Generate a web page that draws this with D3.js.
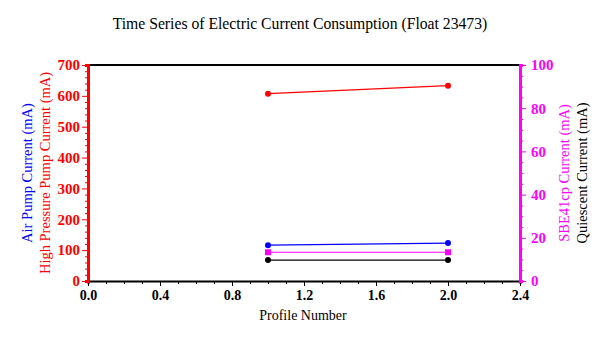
<!DOCTYPE html>
<html><head><meta charset="utf-8">
<script src="https://cdn.jsdelivr.net/npm/d3@7"></script>
<style>body{margin:0;background:#fff}svg{display:block}svg text{font-family:"Liberation Serif","Times New Roman",serif !important}</style>
</head><body>
<svg id="c" width="604" height="338"></svg>
<script>
const profiles = [1, 2];
const highPressure = [607, 633];
const airPump = [116, 123];
const sbe41cp = [13.3, 13.3];
const quiescent = [9.7, 9.7];
const xTicks = [0.0, 0.4, 0.8, 1.2, 1.6, 2.0, 2.4];
const leftTicks = [0, 100, 200, 300, 400, 500, 600, 700];
const rightTicks = [0, 20, 40, 60, 80, 100];

const svg = d3.select("#c");
const m = {l: 88, r: 520, t: 65, b: 281};
const x = d3.scaleLinear().domain([0, 2.4]).range([m.l, m.r]);
const yL = d3.scaleLinear().domain([0, 700]).range([m.b, m.t]);
const yR = d3.scaleLinear().domain([0, 100]).range([m.b, m.t]);
const serif = '"Liberation Serif","Times New Roman",serif';

// top border
svg.append("line").attr("x1", m.l).attr("x2", m.r).attr("y1", m.t).attr("y2", m.t).attr("stroke", "#000").attr("stroke-width", 2);

// bottom axis
const gx = svg.append("g").attr("transform", `translate(0,${m.b})`);
gx.call(d3.axisBottom(x).tickValues(d3.range(0, 2.41, 0.1)).tickSize(3).tickFormat(""));
gx.call(g => g.selectAll(".tick").filter(d => xTicks.some(t => Math.abs(t - d) < 1e-6)).select("line").attr("y2", 5));
gx.append("g").call(d3.axisBottom(x).tickValues(xTicks).tickSize(0).tickPadding(9).tickFormat(d3.format(".1f")))
  .call(g => g.select(".domain").remove())
  .call(g => g.selectAll("text").style("font-size", "14px").style("font-weight", "bold").attr("fill", "#000"));
gx.selectAll(".domain").attr("stroke-width", 2);

// left axis
const gl = svg.append("g").attr("transform", `translate(${m.l},0)`);
gl.call(d3.axisLeft(yL).tickValues(d3.range(0, 701, 20)).tickSize(3).tickFormat(""));
gl.call(g => g.selectAll(".tick").filter(d => d % 100 === 0).select("line").attr("x2", -6));
gl.append("g").call(d3.axisLeft(yL).tickValues(leftTicks).tickSize(0).tickPadding(8))
  .call(g => g.select(".domain").remove())
  .call(g => g.selectAll("text").style("font-size", "15px").style("font-weight", "bold"));
gl.selectAll(".domain, line").attr("stroke", "red");
gl.select(".domain").attr("stroke-width", 3);
gl.selectAll("text").attr("fill", "red");

// right axis
const gr = svg.append("g").attr("transform", `translate(${m.r},0)`);
gr.call(d3.axisRight(yR).tickValues(d3.range(0, 101, 5)).tickSize(3).tickFormat(""));
gr.call(g => g.selectAll(".tick").filter(d => d % 20 === 0).select("line").attr("x2", 6));
gr.append("g").call(d3.axisRight(yR).tickValues(rightTicks).tickSize(0).tickPadding(11))
  .call(g => g.select(".domain").remove())
  .call(g => g.selectAll("text").style("font-size", "15px").style("font-weight", "bold"));
gr.selectAll(".domain, line").attr("stroke", "magenta");
gr.select(".domain").attr("stroke-width", 3);
gr.selectAll("text").attr("fill", "magenta");

// series
const series = [
  {vals: highPressure, y: yL, color: "red", shape: "circle"},
  {vals: airPump, y: yL, color: "blue", shape: "circle"},
  {vals: sbe41cp, y: yR, color: "magenta", shape: "square"},
  {vals: quiescent, y: yR, color: "black", shape: "circle"}
];
series.forEach(s => {
  const pts = profiles.map((p, i) => [x(p), s.y(s.vals[i])]);
  svg.append("path").attr("d", d3.line()(pts)).attr("fill", "none").attr("stroke", s.color).attr("stroke-width", 1.2);
  pts.forEach(p => {
    if (s.shape === "square") svg.append("rect").attr("x", p[0] - 3).attr("y", p[1] - 3).attr("width", 6).attr("height", 6).attr("fill", s.color);
    else svg.append("circle").attr("cx", p[0]).attr("cy", p[1]).attr("r", 3).attr("fill", s.color);
  });
});

// labels
svg.append("text").attr("x", 300).attr("y", 29).attr("text-anchor", "middle").style("font-size", "15.7px").text("Time Series of Electric Current Consumption (Float 23473)");
svg.append("text").attr("x", 303).attr("y", 320).attr("text-anchor", "middle").style("font-size", "14px").text("Profile Number");
const vlab = (xx, txt, col) => svg.append("text").attr("transform", `translate(${xx},173) rotate(-90)`).attr("text-anchor", "middle").style("font-size", "14.5px").attr("fill", col).text(txt);
vlab(32, "Air Pump Current (mA)", "blue");
vlab(50, "High Pressure Pump Current (mA)", "red");
vlab(569, "SBE41cp Current (mA)", "magenta");
vlab(587, "Quiescent Current (mA)", "black");
</script>
</body></html>
